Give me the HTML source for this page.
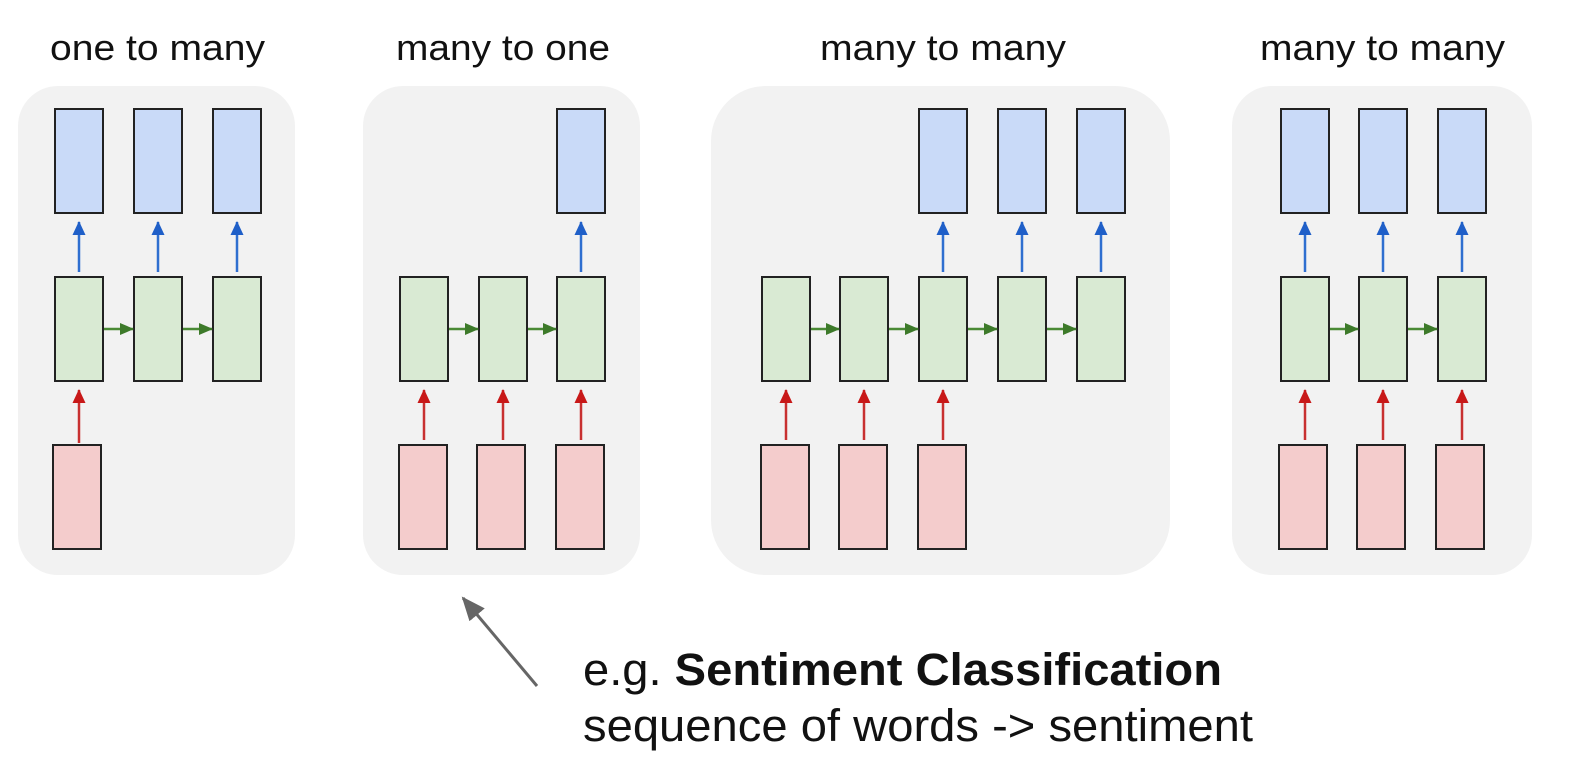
<!DOCTYPE html>
<html><head><meta charset="utf-8"><style>
html,body{margin:0;padding:0;background:#fff;}
svg{display:block;}
text{font-family:"Liberation Sans",sans-serif;fill:#111;}
</style></head><body>
<svg width="1588" height="772" viewBox="0 0 1588 772" xmlns="http://www.w3.org/2000/svg">
<defs>
<marker id="ab" markerWidth="14" markerHeight="13" refX="13" refY="6.5" orient="auto" markerUnits="userSpaceOnUse"><path d="M0,0 L14,6.5 L0,13 z" fill="#1f5fc8"/></marker>
<marker id="ar" markerWidth="14" markerHeight="13" refX="13" refY="6.5" orient="auto" markerUnits="userSpaceOnUse"><path d="M0,0 L14,6.5 L0,13 z" fill="#c81818"/></marker>
<marker id="ag" markerWidth="14" markerHeight="12" refX="13" refY="6" orient="auto" markerUnits="userSpaceOnUse"><path d="M0,0 L14,6 L0,12 z" fill="#3d7a2a"/></marker>
<marker id="ak" markerWidth="24" markerHeight="20" refX="22" refY="10" orient="auto" markerUnits="userSpaceOnUse"><path d="M0,0 L24,10 L0,20 z" fill="#666"/></marker>
</defs>

<text x="50" y="60" font-size="36" textLength="215" lengthAdjust="spacingAndGlyphs">one to many</text>
<text x="396" y="60" font-size="36" textLength="214" lengthAdjust="spacingAndGlyphs">many to one</text>
<text x="820" y="60" font-size="36" textLength="246" lengthAdjust="spacingAndGlyphs">many to many</text>
<text x="1260" y="60" font-size="36" textLength="245" lengthAdjust="spacingAndGlyphs">many to many</text>

<rect x="18" y="86" width="277" height="489" rx="40" fill="#f2f2f2"/>
<rect x="363" y="86" width="277" height="489" rx="40" fill="#f2f2f2"/>
<rect x="711" y="86" width="459" height="489" rx="55" fill="#f2f2f2"/>
<rect x="1232" y="86" width="300" height="489" rx="40" fill="#f2f2f2"/>

<g stroke="#222" stroke-width="2">
<rect x="55" y="109" width="48" height="104" fill="#c9daf8"/>
<rect x="134" y="109" width="48" height="104" fill="#c9daf8"/>
<rect x="213" y="109" width="48" height="104" fill="#c9daf8"/>
<rect x="55" y="277" width="48" height="104" fill="#d9ead3"/>
<rect x="134" y="277" width="48" height="104" fill="#d9ead3"/>
<rect x="213" y="277" width="48" height="104" fill="#d9ead3"/>
<rect x="53" y="445" width="48" height="104" fill="#f4cccc"/>
<rect x="557" y="109" width="48" height="104" fill="#c9daf8"/>
<rect x="400" y="277" width="48" height="104" fill="#d9ead3"/>
<rect x="479" y="277" width="48" height="104" fill="#d9ead3"/>
<rect x="557" y="277" width="48" height="104" fill="#d9ead3"/>
<rect x="399" y="445" width="48" height="104" fill="#f4cccc"/>
<rect x="477" y="445" width="48" height="104" fill="#f4cccc"/>
<rect x="556" y="445" width="48" height="104" fill="#f4cccc"/>
<rect x="919" y="109" width="48" height="104" fill="#c9daf8"/>
<rect x="998" y="109" width="48" height="104" fill="#c9daf8"/>
<rect x="1077" y="109" width="48" height="104" fill="#c9daf8"/>
<rect x="762" y="277" width="48" height="104" fill="#d9ead3"/>
<rect x="840" y="277" width="48" height="104" fill="#d9ead3"/>
<rect x="919" y="277" width="48" height="104" fill="#d9ead3"/>
<rect x="998" y="277" width="48" height="104" fill="#d9ead3"/>
<rect x="1077" y="277" width="48" height="104" fill="#d9ead3"/>
<rect x="761" y="445" width="48" height="104" fill="#f4cccc"/>
<rect x="839" y="445" width="48" height="104" fill="#f4cccc"/>
<rect x="918" y="445" width="48" height="104" fill="#f4cccc"/>
<rect x="1281" y="109" width="48" height="104" fill="#c9daf8"/>
<rect x="1359" y="109" width="48" height="104" fill="#c9daf8"/>
<rect x="1438" y="109" width="48" height="104" fill="#c9daf8"/>
<rect x="1281" y="277" width="48" height="104" fill="#d9ead3"/>
<rect x="1359" y="277" width="48" height="104" fill="#d9ead3"/>
<rect x="1438" y="277" width="48" height="104" fill="#d9ead3"/>
<rect x="1279" y="445" width="48" height="104" fill="#f4cccc"/>
<rect x="1357" y="445" width="48" height="104" fill="#f4cccc"/>
<rect x="1436" y="445" width="48" height="104" fill="#f4cccc"/>
</g>

<g stroke="#2f6fd0" stroke-width="2.5" marker-end="url(#ab)">
<line x1="79" y1="272" x2="79" y2="222"/>
<line x1="158" y1="272" x2="158" y2="222"/>
<line x1="237" y1="272" x2="237" y2="222"/>
<line x1="581" y1="272" x2="581" y2="222"/>
<line x1="943" y1="272" x2="943" y2="222"/>
<line x1="1022" y1="272" x2="1022" y2="222"/>
<line x1="1101" y1="272" x2="1101" y2="222"/>
<line x1="1305" y1="272" x2="1305" y2="222"/>
<line x1="1383" y1="272" x2="1383" y2="222"/>
<line x1="1462" y1="272" x2="1462" y2="222"/>
</g>
<g stroke="#c83030" stroke-width="2.5" marker-end="url(#ar)">
<line x1="79" y1="443" x2="79" y2="390"/>
<line x1="424" y1="440" x2="424" y2="390"/>
<line x1="503" y1="440" x2="503" y2="390"/>
<line x1="581" y1="440" x2="581" y2="390"/>
<line x1="786" y1="440" x2="786" y2="390"/>
<line x1="864" y1="440" x2="864" y2="390"/>
<line x1="943" y1="440" x2="943" y2="390"/>
<line x1="1305" y1="440" x2="1305" y2="390"/>
<line x1="1383" y1="440" x2="1383" y2="390"/>
<line x1="1462" y1="440" x2="1462" y2="390"/>
</g>
<g stroke="#4a8a35" stroke-width="2.5" marker-end="url(#ag)">
<line x1="104" y1="329" x2="133" y2="329"/>
<line x1="183" y1="329" x2="212" y2="329"/>
<line x1="449" y1="329" x2="478" y2="329"/>
<line x1="528" y1="329" x2="556" y2="329"/>
<line x1="811" y1="329" x2="839" y2="329"/>
<line x1="889" y1="329" x2="918" y2="329"/>
<line x1="968" y1="329" x2="997" y2="329"/>
<line x1="1047" y1="329" x2="1076" y2="329"/>
<line x1="1330" y1="329" x2="1358" y2="329"/>
<line x1="1408" y1="329" x2="1437" y2="329"/>
</g>

<line x1="537" y1="686" x2="463" y2="598" stroke="#666" stroke-width="3" marker-end="url(#ak)"/>

<text x="583" y="685" font-size="45" textLength="639" lengthAdjust="spacingAndGlyphs">e.g. <tspan font-weight="bold">Sentiment Classification</tspan></text>
<text x="583" y="741" font-size="45" textLength="670" lengthAdjust="spacingAndGlyphs">sequence of words -&gt; sentiment</text>
</svg>
</body></html>
